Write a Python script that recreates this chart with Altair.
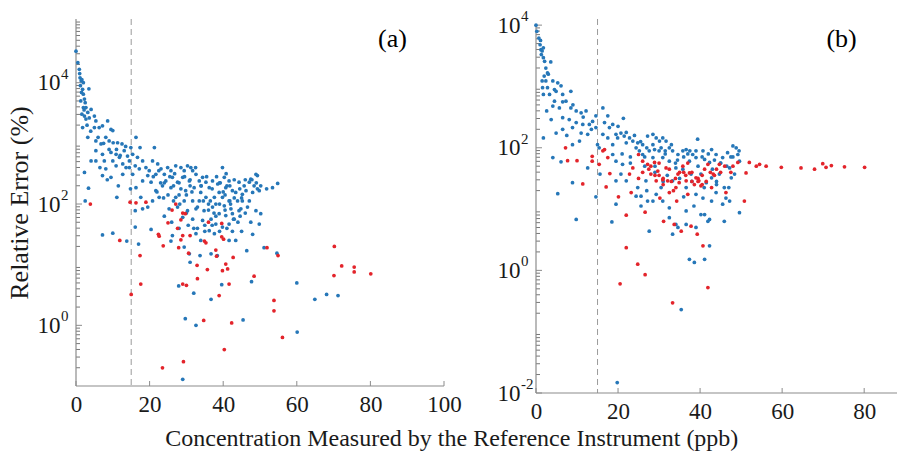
import altair as alt
import pandas as pd

# ---------------- Panel (a) ----------------
# x = concentration (ppb), e = log10(relative error %)
a_blue_x = [0.0, 0.5, 0.9, 1.1, 1.4, 1.6, 2.0, 1.2, 1.8, 1.5, 2.0, 2.3, 2.5, 2.0, 2.7, 1.6, 2.3, 3.2, 3.6, 2.7,
            1.8, 4.1, 5.0, 5.4, 5.0, 6.3, 7.2, 8.6, 9.5, 10.0, 3.2, 5.4, 6.8, 8.1, 9.0, 10.1, 11.3, 12.5, 5.4, 7.2,
            9.5, 10.9, 11.8, 13.1, 14.0, 5.4, 7.7, 10.0, 12.7, 14.5, 4.1, 2.3, 8.1, 10.9, 13.6, 12.7, 7.2, 2.5, 3.4, 9.5,
            11.1, 13.8, 7.2, 10.0, 14.8, 15.4, 14.9,
            16.3, 17.4, 15.4, 16.7, 18.1, 16.1, 17.2, 19.0, 19.9, 21.3, 20.8, 22.2, 21.7, 19.5, 18.1, 20.4, 23.1, 24.0, 24.9, 25.8,
            24.4, 23.5, 21.7, 20.8, 22.6, 16.3, 17.6, 16.1, 17.0, 16.1, 20.4, 19.5, 18.1,
            26.2, 27.1, 28.5, 29.4, 30.3, 31.2, 31.7, 32.6, 29.0, 27.6, 30.8, 33.5, 34.4, 35.3, 25.8, 28.5, 29.8, 32.1, 33.9, 36.2,
            27.1, 29.4, 31.7, 33.5, 35.3, 25.3, 27.6, 30.3, 32.6, 34.8, 37.1, 29.0, 31.7, 34.4, 36.7, 26.2, 29.4, 32.6, 33.9, 36.2,
            30.8,
            37.1, 38.5, 39.8, 40.3, 41.6, 40.7, 42.5, 38.9, 37.6, 39.8, 41.6, 43.4, 38.0, 40.3, 42.1, 43.9, 38.9, 40.7, 42.5, 44.8,
            38.0, 39.8, 41.6, 44.3, 37.6, 41.6, 43.4, 38.4, 36.7, 33.7,
            44.3, 45.7, 47.1, 48.4, 49.3, 48.9, 47.5, 46.2, 48.0, 49.3, 45.2, 47.1, 49.8, 46.6, 48.9, 49.8, 50.2, 45.2, 51.8, 53.4,
            54.8, 51.1, 54.6, 46.4,
            25.8, 27.9, 29.7, 29.0, 32.0, 32.6, 31.0, 36.7, 39.6, 45.4, 47.7, 60.0, 60.1, 64.9, 68.1, 71.2,
            23.0, 26.5, 28.0, 31.0, 34.0, 36.5, 39.0, 41.0, 43.0, 45.0, 35.0, 38.0, 40.0, 42.0, 44.0, 30.0, 33.0, 36.0, 40.5, 42.8,
            21.0, 22.5, 24.0, 25.5, 26.8, 28.0, 29.5, 31.0, 32.5, 34.0, 35.5, 37.0, 38.2, 39.2, 40.8, 41.8, 43.0, 44.5, 46.0, 47.8,
            49.0, 50.2, 22.0, 23.8, 25.0, 26.5, 28.2, 30.0, 31.5, 33.0, 34.6, 36.0, 37.5, 39.0, 40.5, 41.8, 43.0, 44.6, 46.0, 47.5,
            24.0, 26.0, 28.0, 30.5, 32.0, 35.0, 37.0, 39.0, 41.0, 42.5, 45.0, 48.0,
            3.0, 4.0, 6.0, 7.5, 9.0, 11.0, 12.0, 13.5, 14.5, 6.5, 8.5, 11.5, 3.5, 1.0, 1.3, 2.2]
a_blue_e = [4.52, 4.33, 4.22, 4.08, 4.03, 4.05, 4.00, 3.95, 3.89, 3.84, 3.81, 3.73, 3.67, 3.59, 3.59, 3.48, 3.45, 3.51, 3.42, 3.40,
            3.26, 3.56, 3.45, 3.37, 3.26, 3.26, 3.29, 3.37, 3.23, 3.21, 3.10, 3.04, 2.99, 3.10, 3.04, 3.01, 3.01, 2.99, 2.88, 2.82,
            2.85, 2.82, 2.77, 2.88, 2.79, 2.71, 2.71, 2.71, 2.66, 2.71, 2.71, 2.52, 2.58, 2.63, 2.60, 2.49, 2.47, 2.05, 2.26, 2.44,
            2.11, 1.39, 1.49, 1.52, 2.25, 2.49, 2.93,
            3.10, 2.93, 2.82, 2.77, 2.71, 2.63, 2.58, 2.60, 2.55, 2.93, 2.71, 2.66, 2.49, 2.47, 2.38, 2.36, 2.58, 2.49, 2.60, 2.55,
            2.38, 2.30, 2.22, 2.05, 2.11, 2.27, 2.11, 1.89, 1.34, 1.62, 1.58, 1.95, 1.92,
            2.44, 2.63, 2.60, 2.55, 2.63, 2.60, 2.55, 2.49, 2.44, 2.36, 2.38, 2.38, 2.44, 2.36, 2.27, 2.25, 2.22, 2.27, 2.19, 2.27,
            2.11, 2.05, 2.05, 2.05, 2.11, 1.92, 1.95, 1.89, 1.92, 1.89, 1.95, 1.78, 1.75, 1.73, 1.75, 1.48, 1.29, 1.51, 1.40, 1.56,
            1.18,
            2.38, 2.33, 2.60, 2.44, 2.38, 2.27, 2.22, 2.19, 2.11, 2.11, 2.05, 2.19, 2.00, 1.97, 1.92, 2.05, 1.84, 1.81, 1.84, 1.92,
            1.67, 1.62, 1.67, 1.89, 1.51, 1.40, 1.40, 1.15, 1.18, 1.15,
            2.36, 2.30, 2.36, 2.30, 2.47, 2.49, 2.41, 2.22, 2.19, 2.25, 2.16, 2.05, 2.22, 1.95, 1.89, 1.67, 1.84, 2.05, 2.25, 2.27,
            2.34, 1.28, 1.19, 1.23,
            1.39, 0.65, 0.11, -0.89, 0.53, 0.00, 1.04, 0.43, 0.67, 0.09, 0.72, 0.70, -0.11, 0.43, 0.51, 0.49,
            2.35, 2.30, 2.15, 2.30, 2.30, 2.05, 2.35, 2.30, 2.10, 2.10, 1.65, 1.80, 2.20, 2.00, 1.70, 1.85, 1.60, 1.90, 2.15, 1.75,
            2.45, 2.55, 2.35, 2.45, 2.50, 2.35, 2.45, 2.40, 2.60, 2.30, 2.45, 2.25, 2.45, 2.35, 2.50, 2.30, 2.40, 2.25, 2.40, 2.40,
            2.35, 2.30, 2.20, 2.10, 2.15, 2.05, 2.00, 2.15, 2.20, 1.95, 2.05, 2.00, 1.85, 2.00, 1.90, 2.05, 1.75, 1.80, 1.85, 1.70,
            1.80, 1.70, 1.60, 1.65, 1.60, 1.55, 1.65, 1.55, 1.60, 1.55, 1.55, 1.50,
            3.30, 3.20, 3.10, 3.00, 2.90, 2.90, 2.80, 2.95, 2.60, 2.60, 2.40, 2.30, 3.90, 4.15, 3.70, 3.55]
a_red_x = [3.9, 11.9, 14.7, 16.3, 19.0, 15.0, 17.4, 17.6, 22.4, 22.6, 23.7, 25.0, 26.1, 27.1, 27.6, 27.9, 28.5, 29.0, 29.0, 28.5,
           29.7, 30.0, 29.0, 31.0, 30.6, 32.9, 33.0, 34.7, 34.9, 35.3, 35.7, 36.0, 38.0, 38.2, 38.9, 39.6, 39.8, 40.1, 39.6, 40.3,
           40.7, 41.2, 41.6, 42.3, 42.7, 48.4, 51.9, 53.8, 53.8, 54.9, 56.1, 23.5, 29.2, 70.2, 70.1, 72.2, 75.6, 75.6, 80.1]
a_red_e = [2.00, 1.40, 2.03, 2.02, 2.03, 0.51, 1.15, 0.68, 1.50, 1.47, 1.31, 1.69, 1.90, 2.00, 1.60, 1.28, 1.74, 1.85, 1.48, 1.41,
           1.84, 0.66, 0.68, 1.48, 1.19, 0.99, 0.77, 0.08, 1.39, 1.36, 0.92, 1.70, 1.24, 1.14, 0.49, 1.46, 0.90, 1.42, 1.68, -0.40,
           1.01, 0.93, 0.68, 0.04, 1.12, 0.81, 1.28, 0.41, 0.24, 1.15, -0.20, -0.70, -0.60, 1.30, 0.82, 0.98, 0.96, 0.88, 0.85]

# ---------------- Panel (b) ----------------
b_blue_x = [0.0, 0.2, 0.7, 1.0, 1.2, 1.5, 1.8, 1.3, 1.8, 2.1, 2.4, 2.8, 2.0, 1.5, 2.4, 1.6, 2.8, 1.8, 3.3, 4.1,
            5.3, 6.1, 4.9, 6.5, 8.5, 7.3, 4.5, 4.1, 5.7, 8.5, 9.8, 11.0, 12.2, 6.5, 8.1, 3.7, 9.8, 11.4, 13.0, 13.8,
            14.6, 8.9, 6.5, 4.9, 11.0, 12.6, 14.6, 10.6, 8.9, 1.8, 4.1, 6.1, 5.3, 8.9, 9.8, 12.6, 14.6,
            16.3, 17.5, 16.7, 17.9, 18.7, 16.3, 17.5, 19.5, 21.3, 20.7, 19.9, 18.7, 21.5, 22.8, 22.0, 23.6, 24.8, 24.4, 25.2, 26.0,
            27.2, 28.5, 29.3, 30.1, 30.9, 31.7, 32.5, 30.5, 28.9, 27.6, 26.0, 33.3, 18.7, 19.5, 21.1, 20.7, 19.5, 22.0, 15.4, 15.6,
            15.0, 19.5, 18.5, 19.8, 24.4, 25.6, 27.6, 28.5, 30.9, 32.5, 33.3, 34.6, 35.4, 36.6, 37.4, 38.6, 41.1, 42.3, 41.9, 41.1,
            35.8, 36.6, 38.2, 39.4, 40.7, 42.8, 37.4, 39.0, 41.1, 42.3, 35.8, 37.8, 40.2, 41.5, 42.8, 36.6, 39.0, 40.7, 42.8, 43.9,
            44.7, 45.5, 45.9, 45.5, 45.9, 46.7, 47.2, 47.6, 48.0, 48.8, 49.2, 49.6, 48.4, 49.6, 47.2, 43.9, 46.3, 29.3, 30.5, 33.3,
            34.1, 32.5, 34.6, 30.9, 28.5, 26.8, 24.8, 25.6, 27.2, 32.5, 34.1, 36.6, 39.0, 40.2, 42.3,
            23.0, 26.5, 29.0, 31.5, 34.0, 37.0, 39.5, 43.0, 45.0, 47.5, 36.0, 44.0, 38.5, 31.0, 27.0,
            20.0, 22.0, 24.0, 25.5, 27.0, 28.5, 30.0, 31.5, 33.0, 34.5, 36.0, 37.5, 39.0, 40.5, 42.0, 43.5, 45.0, 46.5, 48.0, 49.5,
            21.0, 23.0, 26.5, 29.0, 32.0, 35.0, 38.0, 41.0, 44.0, 47.0,
            3.0, 4.5, 6.5, 9.0, 11.5, 13.5, 3.6, 1.1, 2.6, 7.5]
b_blue_e = [4.00, 3.90, 3.79, 3.68, 3.60, 3.58, 3.63, 3.52, 3.47, 3.41, 3.30, 3.22, 3.17, 3.09, 3.09, 2.98, 2.98, 2.87, 2.87, 3.09,
            3.06, 3.01, 2.92, 2.87, 2.92, 2.76, 2.76, 2.68, 2.65, 2.65, 2.60, 2.57, 2.60, 2.49, 2.46, 2.46, 2.41, 2.38, 2.38, 2.43,
            2.52, 2.33, 2.30, 2.24, 2.24, 2.22, 2.33, 2.11, 2.05, 2.16, 1.84, 1.77, 1.25, 1.43, 0.83, 1.67, 1.20,
            2.65, 2.52, 2.41, 2.33, 2.38, 2.22, 2.16, 2.22, 2.48, 2.24, 2.16, 2.05, 2.19, 2.16, 2.08, 2.11, 2.08, 2.00, 1.95, 2.05,
            2.19, 2.22, 2.16, 2.11, 2.16, 2.11, 2.00, 2.00, 1.97, 1.95, 1.89, 1.95, 1.89, 1.78, 1.73, 1.57, 1.46, 1.46, 2.00, 1.57,
            2.05, 1.08, 0.79, -1.83, 1.21, 1.05, 0.64, 1.13, 1.13, 1.02, 0.59, 0.70, -0.64, 0.97, 0.18, 0.13, 0.18, 0.40, 0.80, 0.91,
            1.95, 1.97, 1.89, 2.14, 1.95, 1.97, 1.78, 1.84, 1.81, 1.76, 1.65, 1.57, 1.57, 1.43, 1.51, 1.35, 1.24, 1.18, 1.13, 1.89,
            1.57, 1.84, 1.35, 1.08, 0.80, 1.92, 1.67, 1.51, 2.03, 2.00, 1.89, 1.78, 1.57, 0.94, 1.13, 1.27, 1.18, 1.24, 1.35, 1.46,
            1.67, 1.78, 1.89, 1.84, 1.84, 1.46, 1.35, 1.21, 1.13, 0.86, 0.75, 0.75, 0.70, 0.91, 0.83,
            1.75, 1.85, 1.70, 1.90, 1.75, 1.90, 1.70, 1.65, 1.75, 1.85, 1.20, 1.40, 1.05, 1.45, 1.30,
            2.35, 2.25, 2.20, 2.10, 2.00, 2.05, 1.95, 1.95, 2.05, 1.80, 1.85, 1.95, 1.95, 1.85, 1.90, 1.80, 1.75, 1.70, 1.85, 1.95,
            1.90, 1.85, 1.70, 1.60, 1.55, 1.50, 1.45, 1.35, 1.45, 1.35,
            3.20, 2.95, 2.75, 2.70, 2.50, 2.30, 3.40, 3.75, 2.60, 2.20]
b_red_x = [7.2, 7.7, 10.0, 11.4, 13.7, 13.7, 15.4, 16.3, 16.7, 17.5, 17.1, 18.0, 20.1, 20.5, 22.0, 22.0, 23.2, 22.8, 23.6, 24.8,
           25.0, 26.0, 26.6, 26.6, 27.2, 28.0, 28.9, 29.3, 29.7, 30.2, 30.9, 31.1, 31.7, 32.1, 32.5, 33.3, 33.7, 34.1, 34.3, 34.6,
           34.9, 35.4, 35.8, 36.6, 37.0, 37.4, 37.8, 38.6, 39.0, 39.3, 39.7, 40.2, 40.7, 41.1, 41.9, 41.9, 42.8, 43.2, 44.7, 46.3,
           48.0, 49.2, 50.8, 51.2, 52.0, 53.7, 54.5, 56.1, 59.8, 64.6, 67.9, 69.9, 70.7, 72.0, 75.2, 80.1,
           38.0, 39.5, 40.5, 29.0, 31.0, 36.0, 33.0, 27.5, 43.5, 45.0,
           26.0, 28.0, 30.0, 31.0, 32.5, 34.0, 35.0, 36.5, 38.0, 39.5, 40.5, 41.5, 42.5, 44.0, 46.0, 47.5, 30.0, 37.0, 25.0, 33.5]
b_red_e = [2.00, 1.79, 1.79, 1.41, 1.86, 1.78, 1.73, 1.95, 1.97, 1.84, 1.36, 1.58, 1.20, -0.22, 0.37, 0.90, 1.27, 1.57, 1.67, 0.10,
           1.89, 1.78, 0.95, -0.07, 1.73, 1.57, 1.76, 1.46, 1.62, 1.18, 1.48, 0.80, 1.67, 1.46, 1.27, -0.53, 0.75, 1.35, 1.13, 1.57,
           1.43, 0.64, 1.70, 1.46, 1.24, 1.59, 0.72, 1.40, 1.51, 0.59, 1.46, 1.38, 0.40, 1.65, -0.28, 1.73, 1.35, 1.57, 1.73, 1.27,
           1.70, 1.76, 1.13, 1.59, 1.76, 1.70, 1.73, 1.70, 1.68, 1.67, 1.65, 1.74, 1.68, 1.71, 1.69, 1.68,
           1.45, 1.50, 1.40, 1.55, 1.50, 1.60, 1.45, 1.65, 1.55, 1.60,
           1.60, 1.70, 1.55, 1.40, 1.65, 1.50, 1.60, 1.55, 1.60, 1.45, 1.55, 1.45, 1.60, 1.65, 1.70, 1.60, 1.75, 1.75, 1.50, 1.30]

a_x_ticks = [0, 20, 40, 60, 80, 100]
b_x_ticks = [0, 20, 40, 60, 80]
a_y_ticks = [1, 100, 10000]
a_y_exps = ["0", "2", "4"]
b_y_ticks = [0.01, 1, 100, 10000]
b_y_exps = ["-2", "0", "2", "4"]
a_minor = [m * 10 ** k for k in range(-1, 5) for m in range(2, 10)] + [1e5]
b_minor = [m * 10 ** k for k in range(-2, 4) for m in range(2, 10)]
threshold = [15]

BLUE = "#2677b8"
RED = "#e3242b"
GRAY = "#8c8c8c"
FONT = "Liberation Serif"
TXT = "#1a1a1a"


def points(bx, be, rx, re):
    rows = [{"x": x, "y": 10 ** e, "g": "blue"} for x, e in zip(bx, be)]
    rows += [{"x": x, "y": 10 ** e, "g": "red"} for x, e in zip(rx, re)]
    return pd.DataFrame(rows)


def panel(df, xdom, ydom, ytop, xticks, yticks, yexps, minor, w, h, label, label_pos, ytitle):
    xs = alt.Scale(domain=xdom, nice=False, zero=False)
    ys = alt.Scale(type="log", domain=ydom, nice=False)
    yaxis = alt.Axis(values=yticks, labelExpr="'10'", labelFlush=False,
                     tickSize=0, labelPadding=16, grid=False, domain=False,
                     labelFont=FONT, labelFontSize=23, labelColor=TXT,
                     title=ytitle if ytitle else None, titleFont=FONT, titleFontSize=26,
                     titleFontWeight="normal", titleColor=TXT, titlePadding=5)
    xaxis = alt.Axis(values=xticks, tickSize=0, labelPadding=7, grid=False, title=None,
                     labelFlush=False, domain=False, labelFont=FONT, labelFontSize=23,
                     labelColor=TXT)
    pts = alt.Chart(df).mark_circle(size=14, opacity=1).encode(
        x=alt.X("x:Q", scale=xs, axis=xaxis),
        y=alt.Y("y:Q", scale=ys, axis=yaxis),
        color=alt.Color("g:N", scale=alt.Scale(domain=["blue", "red"], range=[BLUE, RED]),
                        legend=None),
    )
    dash = alt.Chart(pd.DataFrame({"x": threshold})).mark_rule(
        color="#9a9a9a", strokeDash=[6, 4], strokeWidth=1).encode(
        x=alt.X("x:Q", scale=xs), y=alt.value(0), y2=alt.value(h))
    # axis lines
    xline = alt.Chart(pd.DataFrame({"x": [xdom[0]], "x2": [xdom[1]]})).mark_rule(
        color=GRAY, strokeWidth=1.2).encode(
        x=alt.X("x:Q", scale=xs), x2="x2:Q", y=alt.value(h))
    yline = alt.Chart(pd.DataFrame({"y": [ytop], "y2": [ydom[0]]})).mark_rule(
        color=GRAY, strokeWidth=1.2).encode(
        y=alt.Y("y:Q", scale=ys), y2="y2:Q", x=alt.value(0))
    xt = alt.Chart(pd.DataFrame({"x": xticks})).mark_rule(color=GRAY).encode(
        x=alt.X("x:Q", scale=xs), y=alt.value(h), y2=alt.value(h - 5))
    yt = alt.Chart(pd.DataFrame({"y": yticks})).mark_rule(color=GRAY).encode(
        y=alt.Y("y:Q", scale=ys), x=alt.value(0), x2=alt.value(6))
    ym = alt.Chart(pd.DataFrame({"y": minor})).mark_rule(color="#777777").encode(
        y=alt.Y("y:Q", scale=ys), x=alt.value(0), x2=alt.value(4))
    expo = alt.Chart(pd.DataFrame({"y": yticks, "t": yexps})).mark_text(
        font=FONT, fontSize=15, align="left", dy=-9, color=TXT).encode(
        y=alt.Y("y:Q", scale=ys), x=alt.value(-15), text="t:N")
    lab = alt.Chart(pd.DataFrame({"t": [label], "x": [label_pos[0]], "y": [label_pos[1]]})).mark_text(
        font=FONT, fontSize=26, color="black").encode(
        x=alt.X("x:Q", scale=xs), y=alt.Y("y:Q", scale=ys), text="t:N")
    return alt.layer(ym, yt, xt, dash, xline, yline, pts, expo, lab).properties(width=w, height=h)


df_a = points(a_blue_x, a_blue_e, a_red_x, a_red_e)
df_b = points(b_blue_x, b_blue_e, b_red_x, b_red_e)

pa = panel(df_a, [0, 100], [0.1, 10 ** 5.05], 10 ** 5.05, a_x_ticks, a_y_ticks, a_y_exps, a_minor,
           368, 367, "(a)", (86, 10 ** 4.72), "Relative Error (%)")
pb = panel(df_b, [0, 88], [0.01, 10 ** 4.1], 1e4, b_x_ticks, b_y_ticks, b_y_exps, b_minor,
           361, 374, "(b)", (74.5, 10 ** 3.77), None)

chart = alt.hconcat(pa, pb, spacing=92, bounds="flush").properties(
    title=alt.TitleParams("Concentration Measured by the Reference Instrument (ppb)",
                          orient="bottom", anchor="middle", font=FONT, fontSize=24,
                          fontWeight="normal", color=TXT, offset=4),
    padding={"left": 6, "top": 9, "right": 0, "bottom": 0},
    background="white",
).configure_view(stroke=None)

chart.save("out.html", embed_options={"renderer": "svg", "actions": False})
